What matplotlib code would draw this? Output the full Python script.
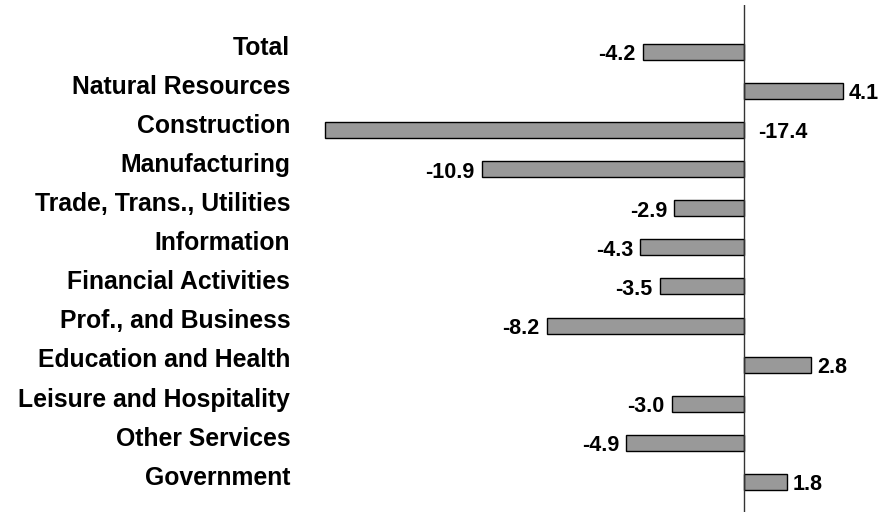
import numpy as np
import matplotlib.pyplot as plt

plt.rcParams['font.family'] = ['Liberation Sans', 'DejaVu Sans']

sectors = ['Total', 'Natural Resources', 'Construction', 'Manufacturing',
           'Trade, Trans., Utilities', 'Information', 'Financial Activities',
           'Prof., and Business', 'Education and Health',
           'Leisure and Hospitality', 'Other Services', 'Government']
changes = [-4.2, 4.1, -17.4, -10.9, -2.9, -4.3, -3.5, -8.2, 2.8, -3.0, -4.9, 1.8]

W, H = 880, 513
fig = plt.figure(figsize=(W / 100, H / 100), dpi=100)
# axes in pixel terms: x 300..875, y 5..512
ax = fig.add_axes([300 / W, 1 - 512 / H, 575 / W, 507 / H])

y = np.arange(len(sectors))
ax.barh(y, changes, height=0.41, color='#999999', edgecolor='black', linewidth=1, zorder=2)
ax.axvline(0, color='#333333', lw=1, zorder=3)

ax.set_xlim(-18.44, 5.44)
ax.set_ylim(11.77, -1.202)
ax.axis('off')

for i, (name, v) in enumerate(zip(sectors, changes)):
    ax.annotate(name, xy=(0, i), xycoords=('axes fraction', 'data'),
                xytext=(-7, 3), textcoords='offset points',
                ha='right', va='center', fontsize=17.8, fontweight='bold')
    if v >= 0:
        ax.annotate(f'{v:.1f}', xy=(v, i), xytext=(4, -2), textcoords='offset points',
                    ha='left', va='center', fontsize=15.5, fontweight='bold')
    elif v < -15:
        # too long to label on the left, put it beside the axis
        ax.annotate(f'{v:.1f}', xy=(0, i), xytext=(10, -2), textcoords='offset points',
                    ha='left', va='center', fontsize=15.5, fontweight='bold')
    else:
        ax.annotate(f'{v:.1f}', xy=(v, i), xytext=(-5, -2), textcoords='offset points',
                    ha='right', va='center', fontsize=15.5, fontweight='bold')

fig.savefig('out.png', dpi=100)
